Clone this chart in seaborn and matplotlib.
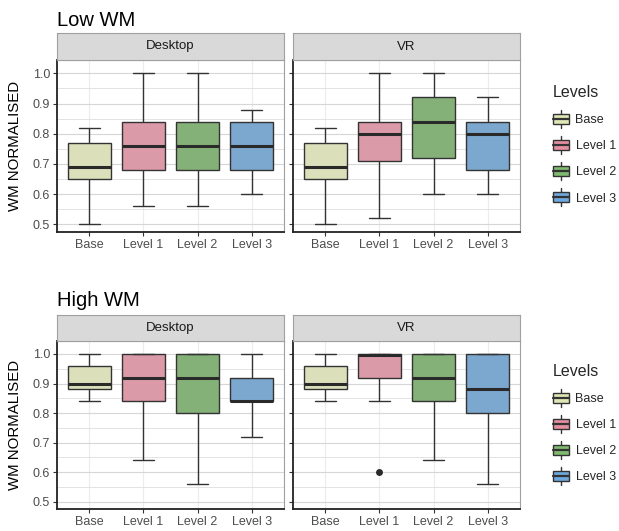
import numpy as np
import pandas as pd
import matplotlib
matplotlib.use("Agg")
import matplotlib.pyplot as plt
import seaborn as sns
from matplotlib.patches import Rectangle, Patch
from matplotlib.lines import Line2D
from matplotlib.legend_handler import HandlerBase

sns.set_theme(style="white")
plt.rcParams['font.family'] = ['Liberation Sans', 'DejaVu Sans']

levels = ["Base", "Level 1", "Level 2", "Level 3"]
colors = ["#e0e6b5", "#e68fa0", "#7fba6e", "#6ea8dc"]
devices = ["Desktop", "VR"]

# five-number summaries: whisker low, q1, median, q3, whisker high
low_desktop = {"lo": [0.50, 0.56, 0.56, 0.60], "q1": [0.65, 0.68, 0.68, 0.68],
               "med": [0.69, 0.76, 0.76, 0.76], "q3": [0.77, 0.84, 0.84, 0.84],
               "hi": [0.82, 1.00, 1.00, 0.88]}
low_vr = {"lo": [0.50, 0.52, 0.60, 0.60], "q1": [0.65, 0.71, 0.72, 0.68],
          "med": [0.69, 0.80, 0.84, 0.80], "q3": [0.77, 0.84, 0.92, 0.84],
          "hi": [0.82, 1.00, 1.00, 0.92]}
high_desktop = {"lo": [0.84, 0.64, 0.56, 0.72], "q1": [0.88, 0.84, 0.80, 0.84],
                "med": [0.90, 0.92, 0.92, 0.842], "q3": [0.96, 1.00, 1.00, 0.92],
                "hi": [1.00, 1.00, 1.00, 1.00]}
high_vr = {"lo": [0.84, 0.84, 0.64, 0.56], "q1": [0.88, 0.92, 0.84, 0.80],
           "med": [0.90, 0.995, 0.92, 0.88], "q3": [0.96, 1.00, 1.00, 1.00],
           "hi": [1.00, 1.00, 1.00, 1.00]}
# outliers: (level, value)
high_vr_fliers = [("Level 1", 0.60)]

rows = [("Low WM", {"Desktop": low_desktop, "VR": low_vr}, {}),
        ("High WM", {"Desktop": high_desktop, "VR": high_vr}, {"VR": high_vr_fliers})]


def to_frame(summary):
    recs = []
    for i, lev in enumerate(levels):
        for k in ["lo", "q1", "med", "q3", "hi"]:
            recs.append({"Levels": lev, "WM": summary[k][i]})
    return pd.DataFrame(recs)


class BoxHandler(HandlerBase):
    def create_artists(self, legend, orig_handle, xdescent, ydescent, width, height, fontsize, trans):
        x0, y0 = -xdescent, -ydescent
        fc = orig_handle.get_facecolor()
        cx = x0 + width / 2
        arts = [Line2D([cx, cx], [y0 - 0.2 * height, y0 + 1.2 * height], color="#333333", lw=1.0),
                Rectangle((x0, y0 + 0.1 * height), width, 0.8 * height, facecolor=fc,
                          edgecolor="#333333", lw=1.0),
                Line2D([x0, x0 + width], [y0 + 0.5 * height] * 2, color="#333333", lw=1.6)]
        for a in arts:
            a.set_transform(trans)
        return arts


W, H = 619, 531
fig = plt.figure(figsize=(W / 100, H / 100), dpi=100)

row_px = [(33, 60, 232, 26), (315, 341, 509, 306)]
col_px = [(57, 284), (293, 520)]

for r, (title, data, fliers) in enumerate(rows):
    s_top, a_top, a_bot, t_base = row_px[r]
    fig.text(57 / W, 1 - t_base / H, title, fontsize=14.5, va="baseline", ha="left", color="black")
    for c, dev in enumerate(devices):
        x0, x1 = col_px[c]
        ax = fig.add_axes([x0 / W, 1 - a_bot / H, (x1 - x0) / W, (a_bot - a_top) / H])
        df = to_frame(data[dev])
        sns.boxplot(data=df, x="Levels", y="WM", hue="Levels", order=levels, hue_order=levels,
                    palette=colors, whis=(0, 100), width=0.78, linecolor="#333333",
                    linewidth=1.0, showfliers=False, legend=False,
                    medianprops={"linewidth": 2.2, "color": "#2a2a2a"}, ax=ax)
        if dev in fliers:
            fl = pd.DataFrame(fliers[dev], columns=["Levels", "WM"])
            sns.stripplot(data=fl, x="Levels", y="WM", order=levels, jitter=False,
                          color="#2a2a2a", size=5, ax=ax)
        ax.set_xlim(-0.6, 3.6)
        ax.set_ylim(0.475, 1.044)
        ax.set_yticks([0.5, 0.6, 0.7, 0.8, 0.9, 1.0])
        ax.set_yticks([0.55, 0.65, 0.75, 0.85, 0.95], minor=True)
        ax.grid(True, which="major", axis="y", color="#d6d6d6", lw=0.8)
        ax.grid(True, which="minor", axis="y", color="#dedede", lw=0.6)
        ax.grid(True, which="major", axis="x", color="#ececec", lw=0.8)
        ax.set_axisbelow(True)
        ax.set_xlabel("")
        ax.set_ylabel("")
        for side in ["top", "right"]:
            ax.spines[side].set_color("#a0a0a0")
            ax.spines[side].set_linewidth(0.8)
        for side in ["left", "bottom"]:
            ax.spines[side].set_color("#222222")
            ax.spines[side].set_linewidth(1.3)
        ax.tick_params(axis="both", which="major", length=3, width=0.8, color="#333333",
                       labelsize=9, labelcolor="#4d4d4d", pad=2, bottom=True, left=True)
        ax.tick_params(axis="both", which="minor", length=0)
        if c == 0:
            ax.set_yticklabels(["0.5", "0.6", "0.7", "0.8", "0.9", "1.0"])
        else:
            ax.set_yticklabels([])
        # strip on top
        sax = fig.add_axes([x0 / W, 1 - a_top / H, (x1 - x0) / W, (a_top - s_top) / H])
        sax.set_facecolor("#d9d9d9")
        sax.set_xticks([])
        sax.set_yticks([])
        for sp in sax.spines.values():
            sp.set_color("#a0a0a0")
            sp.set_linewidth(0.8)
        sax.text(0.5, 0.5, dev, ha="center", va="center", fontsize=9.5, color="#1a1a1a",
                 transform=sax.transAxes)
    fig.text(15 / W, 1 - (a_top + a_bot) / 2 / H, "WM NORMALISED", rotation=90, fontsize=10.8,
             ha="center", va="center", color="black")
    handles = [Patch(facecolor=col, edgecolor="#333333") for col in colors]
    leg_top = 80 if r == 0 else 359
    leg = fig.legend(handles, levels, title="Levels", loc="upper left",
                     bbox_to_anchor=(548 / W, 1 - leg_top / H), frameon=False,
                     handler_map={Patch: BoxHandler()}, fontsize=9, title_fontsize=11.5,
                     handlelength=1.3, handleheight=1.2, labelspacing=1.0, handletextpad=0.5,
                     borderaxespad=0)
    leg._legend_box.align = "left"

fig.savefig("out.png", dpi=100, facecolor="white")
